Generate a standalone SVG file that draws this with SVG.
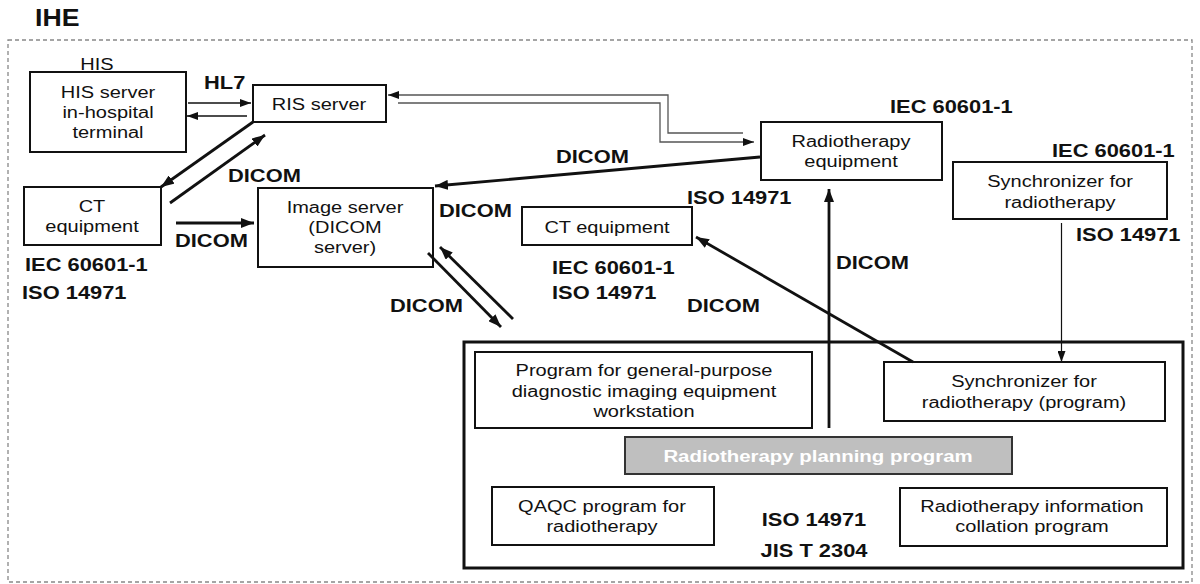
<svg xmlns="http://www.w3.org/2000/svg" width="1200" height="584" viewBox="0 0 1200 584">
<defs>
<style>
.t{font-family:"Liberation Sans",Arial,sans-serif;font-size:16px;fill:#111;text-anchor:middle}
.b{font-family:"Liberation Sans",Arial,sans-serif;font-size:17.5px;font-weight:bold;fill:#111}
.box{fill:#fff;stroke:#111;stroke-width:2}
.thick{stroke:#111;stroke-width:2.8;fill:none}
.thin{stroke:#111;stroke-width:1.4;fill:none}
.dbl{stroke:#555;stroke-width:1.3;fill:none}
</style>
<marker id="ah" viewBox="0 0 13 10" refX="13" refY="5" markerWidth="13" markerHeight="10" markerUnits="userSpaceOnUse" orient="auto"><path d="M0,0 L13,5 L0,10 z" fill="#111"/></marker>
<marker id="as" viewBox="0 0 11 8" refX="11" refY="4" markerWidth="11" markerHeight="8" markerUnits="userSpaceOnUse" orient="auto"><path d="M0,0 L11,4 L0,8 z" fill="#111"/></marker>
</defs>
<rect width="1200" height="584" fill="#fff"/>
<text class="b" style="font-size:23px" transform="translate(35,26) scale(1.16,1)">IHE</text>
<rect x="8" y="40" width="1184" height="542" fill="none" stroke="#888" stroke-width="1.3" stroke-dasharray="4,3"/>

<g id="his">
<text class="t" transform="translate(97,70) scale(1.25,1)">HIS</text>
<rect class="box" x="30" y="72" width="156" height="80"/>
<text class="t" transform="translate(108,98) scale(1.25,1)">HIS server</text>
<text class="t" transform="translate(108,118) scale(1.25,1)">in-hospital</text>
<text class="t" transform="translate(108,138) scale(1.25,1)">terminal</text>
</g>
<g id="ris">
<rect class="box" x="253" y="85" width="133" height="37"/>
<text class="t" transform="translate(319,110) scale(1.25,1)">RIS server</text>
</g>
<g id="ct1">
<rect class="box" x="24" y="187" width="137" height="58"/>
<text class="t" transform="translate(92,212) scale(1.25,1)">CT</text>
<text class="t" transform="translate(92,232) scale(1.25,1)">equipment</text>
<text class="b" transform="translate(25,271) scale(1.25,1)">IEC 60601-1</text>
<text class="b" transform="translate(22,299) scale(1.25,1)">ISO 14971</text>
</g>
<g id="imgserver">
<rect class="box" x="258" y="188" width="175" height="79"/>
<text class="t" transform="translate(345,213) scale(1.25,1)">Image server</text>
<text class="t" transform="translate(345,233) scale(1.25,1)">(DICOM</text>
<text class="t" transform="translate(345,253) scale(1.25,1)">server)</text>
</g>
<g id="ct2">
<rect class="box" x="522" y="207" width="170" height="38"/>
<text class="t" transform="translate(607,233) scale(1.25,1)">CT equipment</text>
<text class="b" transform="translate(687,204) scale(1.25,1)">ISO 14971</text>
<text class="b" transform="translate(552,274) scale(1.25,1)">IEC 60601-1</text>
<text class="b" transform="translate(552,299) scale(1.25,1)">ISO 14971</text>
</g>
<g id="radioequip">
<rect class="box" x="761" y="122" width="181" height="58"/>
<text class="t" transform="translate(851,147) scale(1.25,1)">Radiotherapy</text>
<text class="t" transform="translate(851,167) scale(1.25,1)">equipment</text>
<text class="b" transform="translate(890,113) scale(1.25,1)">IEC 60601-1</text>
</g>
<g id="sync">
<rect class="box" x="953" y="162" width="214" height="57"/>
<text class="t" transform="translate(1060,187) scale(1.25,1)">Synchronizer for</text>
<text class="t" transform="translate(1060,208) scale(1.25,1)">radiotherapy</text>
<text class="b" transform="translate(1052,157) scale(1.25,1)">IEC 60601-1</text>
<text class="b" transform="translate(1076,241) scale(1.25,1)">ISO 14971</text>
</g>
<g id="system">
<rect x="464" y="342" width="719" height="226" fill="none" stroke="#111" stroke-width="3"/>
<text class="b" style="text-anchor:middle" transform="translate(814,526) scale(1.25,1)">ISO 14971</text>
<text class="b" style="text-anchor:middle" transform="translate(814,557) scale(1.25,1)">JIS T 2304</text>
</g>
<g id="workstation">
<rect class="box" x="475" y="352" width="337" height="76"/>
<text class="t" transform="translate(644,376) scale(1.25,1)">Program for general-purpose</text>
<text class="t" transform="translate(644,397) scale(1.25,1)">diagnostic imaging equipment</text>
<text class="t" transform="translate(644,417) scale(1.25,1)">workstation</text>
</g>
<g id="syncprog">
<rect class="box" x="884" y="362" width="281" height="59"/>
<text class="t" transform="translate(1024,387) scale(1.25,1)">Synchronizer for</text>
<text class="t" transform="translate(1024,408) scale(1.25,1)">radiotherapy (program)</text>
</g>
<g id="planning">
<rect x="625" y="437" width="387" height="37" fill="#bfbfbf" stroke="#333" stroke-width="2"/>
<text class="b" style="text-anchor:middle;fill:#fff;font-size:17px" transform="translate(818,462) scale(1.2,1)">Radiotherapy planning program</text>
</g>
<g id="qaqc">
<rect class="box" x="492" y="487" width="222" height="58"/>
<text class="t" transform="translate(602,512) scale(1.25,1)">QAQC program for</text>
<text class="t" transform="translate(602,532) scale(1.25,1)">radiotherapy</text>
</g>
<g id="collation">
<rect class="box" x="900" y="488" width="267" height="58"/>
<text class="t" transform="translate(1032,512) scale(1.25,1)">Radiotherapy information</text>
<text class="t" transform="translate(1032,532) scale(1.25,1)">collation program</text>
</g>

<g id="connectors">
<line class="thin" x1="188" y1="103" x2="251" y2="103" marker-end="url(#as)"/>
<line class="thin" x1="247" y1="116" x2="187" y2="116" marker-end="url(#as)"/>
<text class="b" transform="translate(204,89) scale(1.25,1)">HL7</text>
<line class="thick" x1="253" y1="122" x2="161" y2="187" marker-end="url(#ah)"/>
<line class="thick" x1="170" y1="203" x2="265" y2="135" marker-end="url(#ah)"/>
<text class="b" transform="translate(228,182) scale(1.25,1)">DICOM</text>
<line class="thick" x1="176" y1="223" x2="254" y2="223" marker-end="url(#ah)"/>
<text class="b" transform="translate(175,247) scale(1.25,1)">DICOM</text>
<line class="thick" x1="760" y1="157" x2="435" y2="186" marker-end="url(#ah)"/>
<text class="b" transform="translate(556,163) scale(1.25,1)">DICOM</text>
<text class="b" transform="translate(439,217) scale(1.25,1)">DICOM</text>
<line class="thick" x1="428" y1="253" x2="501" y2="327" marker-end="url(#ah)"/>
<line class="thick" x1="513" y1="319" x2="440" y2="247" marker-end="url(#ah)"/>
<text class="b" transform="translate(390,312) scale(1.25,1)">DICOM</text>
<path class="dbl" d="M743,133 L668,133 L668,95 L388,95" marker-end="url(#as)"/>
<path class="dbl" d="M398,103 L660,103 L660,142 L754,142" marker-end="url(#as)"/>
<line class="thick" x1="829" y1="428" x2="829" y2="189" marker-end="url(#ah)"/>
<text class="b" transform="translate(836,269) scale(1.25,1)">DICOM</text>
<line class="thick" x1="913" y1="362" x2="696" y2="237" marker-end="url(#ah)"/>
<text class="b" transform="translate(687,312) scale(1.25,1)">DICOM</text>
<line stroke="#111" stroke-width="1.2" x1="1061.5" y1="223" x2="1061.5" y2="362" marker-end="url(#as)"/>
</g>
</svg>
